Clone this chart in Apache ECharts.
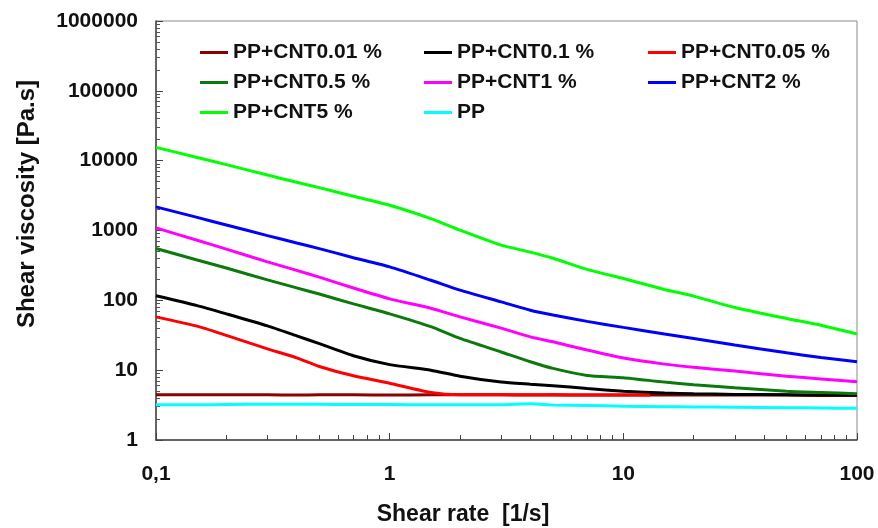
<!DOCTYPE html>
<html>
<head>
<meta charset="utf-8">
<script src="https://cdn.jsdelivr.net/npm/echarts@6/dist/echarts.min.js"></script>
<style>
  html, body { margin: 0; padding: 0; background: #fff; }
  #chart { width: 878px; height: 528px; }
</style>
</head>
<body>
<div id="chart"></div>
<script>
// Shear rate samples [1/s]
const shearRate = [0.1, 0.15, 0.2, 0.3, 0.4, 0.5, 0.7, 1, 1.5, 2, 3, 4, 5, 7, 10, 15, 20, 30, 50, 70, 100];
// The 0.05 % sample was measured only up to ~13 1/s
const shearRateShort = [0.1, 0.15, 0.2, 0.3, 0.4, 0.5, 0.7, 1, 1.5, 2, 3, 4, 5, 7, 10, 13];

// Shear viscosity [Pa.s]
const cnt001 = [4.45, 4.45, 4.45, 4.45, 4.4, 4.45, 4.45, 4.4, 4.45, 4.45, 4.45, 4.4, 4.45, 4.4, 4.4, 4.4, 4.4, 4.4, 4.4, 4.35, 4.35];
const cnt01  = [116, 84, 64, 43, 31, 24, 16.1, 12.0, 10, 8.2, 6.75, 6.3, 6.0, 5.45, 5.0, 4.7, 4.6, 4.5, 4.45, 4.4, 4.4];
const cnt005 = [58, 42.7, 31.5, 20.2, 15, 11.3, 8.3, 6.5, 4.8, 4.45, 4.45, 4.45, 4.45, 4.4, 4.4, 4.4];
const cnt05  = [553, 378, 290, 196, 151, 123, 89, 64, 42, 28.5, 18.2, 13.2, 10.6, 8.4, 7.8, 6.75, 6.2, 5.6, 5.0, 4.8, 4.6];
const cnt1   = [1090, 725, 542, 356, 268, 215, 150, 105, 77, 58, 40, 30, 25.5, 19.4, 14.9, 12.2, 11, 9.7, 8.2, 7.5, 6.8];
const cnt2   = [2180, 1540, 1200, 845, 662, 550, 408, 301, 194, 140, 95, 72, 61.5, 50, 41, 33, 28.5, 23, 17.7, 15.2, 13.2];
const cnt5   = [15500, 11100, 8770, 6220, 4910, 4110, 3090, 2300, 1480, 1010, 617, 490, 400, 277, 205, 143, 115, 79, 55, 44, 33];
const pp     = [3.2, 3.2, 3.22, 3.25, 3.24, 3.24, 3.22, 3.22, 3.2, 3.2, 3.2, 3.3, 3.18, 3.12, 3.05, 3.0, 2.98, 2.95, 2.9, 2.87, 2.84];

// Axis tick values
const xMajorTicks = [0.1, 1, 10, 100];
const xMinorTicks = [0.2, 0.3, 0.4, 0.5, 0.6, 0.7, 0.8, 0.9, 2, 3, 4, 5, 6, 7, 8, 9, 20, 30, 40, 50, 60, 70, 80, 90];
const yMajorTicks = [1, 10, 100, 1000, 10000, 100000, 1000000];
const yMinorTicks = [];
for (let d = 1; d < 1000000; d *= 10) {
  for (let k = 2; k <= 9; k++) yMinorTicks.push(k * d);
}

const seriesDefs = [
  { name: 'PP+CNT0.01 %', x: shearRate, y: cnt001, color: '#8b0000' },
  { name: 'PP+CNT0.1 %',  x: shearRate, y: cnt01,  color: '#000000' },
  { name: 'PP+CNT0.05 %', x: shearRateShort, y: cnt005, color: '#ff0000' },
  { name: 'PP+CNT0.5 %',  x: shearRate, y: cnt05,  color: '#0a7a0a' },
  { name: 'PP+CNT1 %',    x: shearRate, y: cnt1,   color: '#ff00ff' },
  { name: 'PP+CNT2 %',    x: shearRate, y: cnt2,   color: '#0000ff' },
  { name: 'PP+CNT5 %',    x: shearRate, y: cnt5,   color: '#00ff00' },
  { name: 'PP',           x: shearRate, y: pp,     color: '#00ffff' }
];

const font = '"Liberation Sans", Arial, Helvetica, sans-serif';
const chart = echarts.init(document.getElementById('chart'), null, { renderer: 'canvas' });

const legendBase = {
  orient: 'vertical',
  icon: 'rect',
  itemWidth: 28,
  itemHeight: 3,
  itemGap: 9,
  top: 42,
  padding: 0,
  textStyle: { fontFamily: font, fontWeight: 'bold', fontSize: 21, color: '#111' }
};

const axisLabelStyle = { fontFamily: font, fontWeight: 'bold', fontSize: 21, color: '#111' };

chart.setOption({
  animation: false,
  backgroundColor: '#fff',
  grid: {
    left: 156, right: 21, top: 21, bottom: 88,
    show: true, borderColor: '#8a8a8a', borderWidth: 1, backgroundColor: 'transparent'
  },
  legend: [
    Object.assign({}, legendBase, { left: 200, data: ['PP+CNT0.01 %', 'PP+CNT0.5 %', 'PP+CNT5 %'] }),
    Object.assign({}, legendBase, { left: 424, data: ['PP+CNT0.1 %', 'PP+CNT1 %', 'PP'] }),
    Object.assign({}, legendBase, { left: 648, data: ['PP+CNT0.05 %', 'PP+CNT2 %'] })
  ],
  xAxis: [
    {
      type: 'log', logBase: 10, min: 0.1, max: 100,
      axisLine: { show: true, lineStyle: { color: '#444', width: 1.5 } },
      axisTick: { show: true, inside: true, length: 7, customValues: xMajorTicks, lineStyle: { color: '#444', width: 1 } },
      axisLabel: {
        show: true, margin: 24, customValues: xMajorTicks, ...axisLabelStyle,
        formatter: v => (v < 1 ? String(v).replace('.', ',') : String(v))
      },
      splitLine: { show: false }
    },
    {
      type: 'log', logBase: 10, min: 0.1, max: 100, position: 'bottom',
      axisLine: { show: false },
      axisTick: { show: true, inside: true, length: 5, customValues: xMinorTicks, lineStyle: { color: '#444', width: 1 } },
      axisLabel: { show: false },
      splitLine: { show: false }
    }
  ],
  yAxis: [
    {
      type: 'log', logBase: 10, min: 1, max: 1000000,
      axisLine: { show: true, lineStyle: { color: '#444', width: 1.5 } },
      axisTick: { show: true, inside: true, length: 7, customValues: yMajorTicks, lineStyle: { color: '#444', width: 1 } },
      axisLabel: { show: true, margin: 18, customValues: yMajorTicks, ...axisLabelStyle, formatter: v => String(v) },
      splitLine: { show: false }
    },
    {
      type: 'log', logBase: 10, min: 1, max: 1000000, position: 'left',
      axisLine: { show: false },
      axisTick: { show: true, inside: true, length: 4, customValues: yMinorTicks, lineStyle: { color: '#555', width: 1 } },
      axisLabel: { show: false },
      splitLine: { show: false }
    }
  ],
  graphic: [
    {
      type: 'text', x: 463, y: 515,
      style: { text: 'Shear rate  [1/s]', fill: '#111', font: 'bold 23px ' + font, textAlign: 'center', textVerticalAlign: 'middle' }
    },
    {
      type: 'text', x: 27, y: 204, rotation: Math.PI / 2,
      style: { text: 'Shear viscosity [Pa.s]', fill: '#111', font: 'bold 24px ' + font, textAlign: 'center', textVerticalAlign: 'middle' }
    }
  ],
  series: seriesDefs.map(s => ({
    name: s.name,
    type: 'line',
    xAxisIndex: 0,
    yAxisIndex: 0,
    showSymbol: false,
    symbol: 'none',
    smooth: 0.2,
    color: s.color,
    lineStyle: { color: s.color, width: 3 },
    data: s.x.map((xv, i) => [xv, s.y[i]])
  }))
});
</script>
</body>
</html>
